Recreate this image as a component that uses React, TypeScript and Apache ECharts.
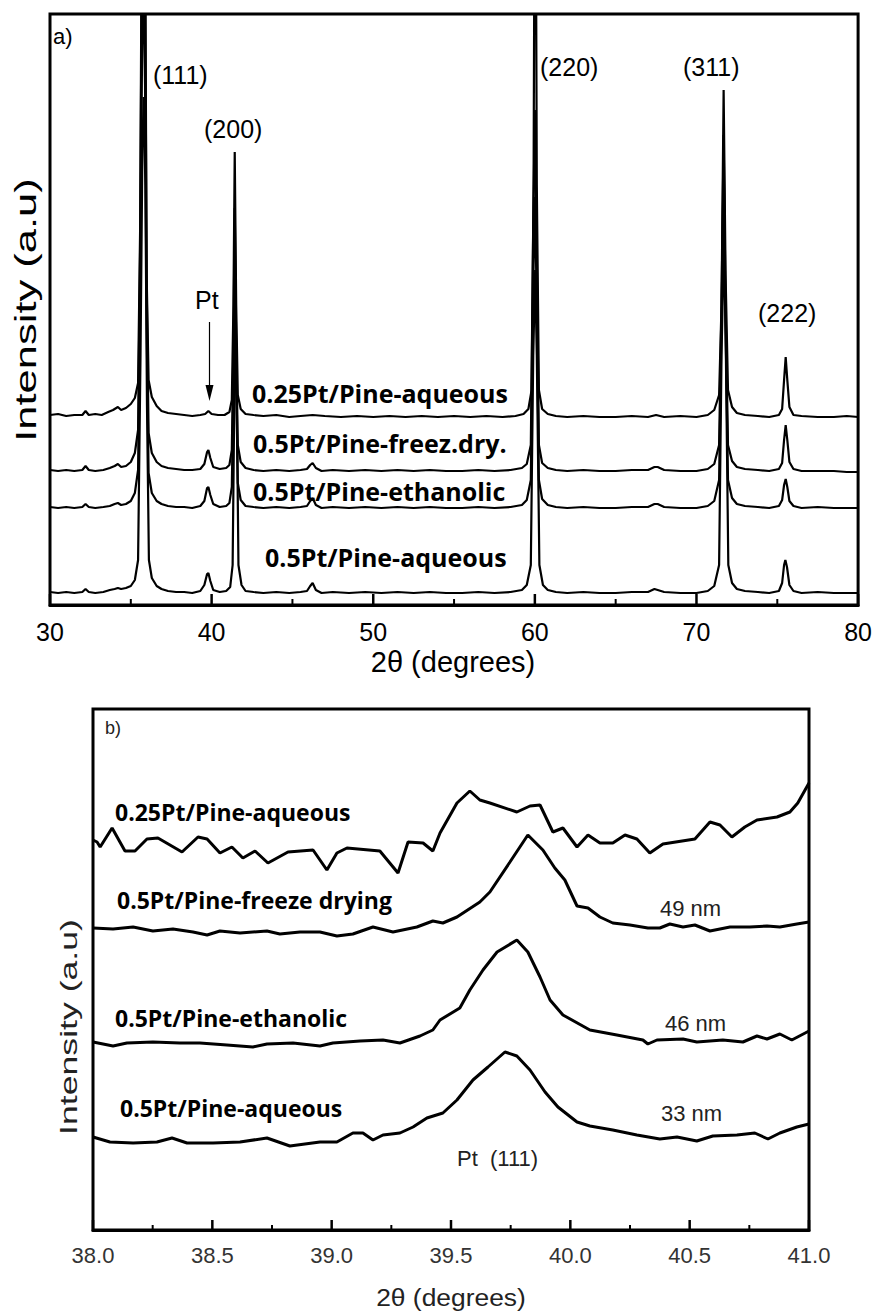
import React, { useEffect, useRef } from "react";
import * as echarts from "echarts";

// ---------- Panel a) : XRD patterns, 2θ = 30..80 (intensity in arbitrary units) ----------
const aXTicks = { min: 30, max: 80, step: 10 };
const aYMax = 591;
const aMajorTicks = [30, 40, 50, 60, 70, 80];
const aMinorTicks = [35, 45, 55, 65, 75];

const a025Aqueous: number[][] = [
  [30.0, 190], [30.5, 191], [31.0, 189], [31.5, 190], [32.0, 190], [32.2, 194], [32.4, 190], [32.8, 191], [33.2, 190], [33.6, 193],
  [33.9, 195], [34.2, 198], [34.4, 195], [34.7, 197], [35.0, 201], [35.25, 207], [35.45, 222], [35.58, 380], [35.7, 760], [35.78, 900],
  [35.88, 700], [35.98, 330], [36.1, 225], [36.3, 208], [36.6, 199], [36.9, 194], [37.3, 192], [37.8, 191], [38.3, 190], [38.8, 189],
  [39.3, 190], [39.6, 191], [39.8, 194], [40.0, 191], [40.4, 190], [40.8, 190], [41.1, 193], [41.25, 205], [41.35, 300], [41.43, 453],
  [41.52, 300], [41.62, 210], [41.8, 196], [42.1, 191], [42.6, 190], [43.2, 189], [44.0, 190], [44.8, 188], [45.5, 189], [46.25, 190],
  [47.0, 189], [48.0, 188], [49.0, 189], [50.0, 188], [51.0, 189], [52.0, 188], [53.0, 189], [54.0, 188], [55.0, 189], [56.0, 188],
  [57.0, 189], [58.0, 188], [58.8, 189], [59.3, 191], [59.6, 196], [59.8, 215], [59.92, 420], [60.02, 900], [60.12, 420], [60.25, 215],
  [60.45, 196], [60.8, 191], [61.3, 189], [62.0, 188], [63.0, 189], [64.0, 188], [65.0, 188], [66.0, 189], [67.0, 188], [67.5, 190],
  [68.0, 188], [69.0, 189], [70.0, 188], [70.7, 190], [71.1, 195], [71.4, 210], [71.55, 300], [71.68, 515], [71.8, 330], [71.95, 215],
  [72.2, 198], [72.5, 192], [73.0, 190], [73.8, 189], [74.5, 188], [75.1, 190], [75.3, 196], [75.42, 225], [75.52, 248], [75.62, 225],
  [75.75, 198], [76.0, 190], [76.5, 189], [77.5, 188], [78.5, 188], [79.3, 189], [80.0, 188],
];

const a05FreezeDry: number[][] = [
  [30.0, 135], [30.5, 134], [31.0, 135], [31.5, 134], [32.0, 135], [32.2, 139], [32.4, 135], [32.8, 134], [33.3, 135], [33.7, 137],
  [34.0, 139], [34.2, 141], [34.4, 138], [34.7, 139], [35.0, 143], [35.25, 152], [35.45, 175], [35.58, 360], [35.7, 700], [35.78, 800],
  [35.88, 650], [35.98, 320], [36.1, 172], [36.3, 152], [36.6, 143], [36.9, 139], [37.3, 137], [37.8, 136], [38.3, 135], [38.8, 135],
  [39.3, 136], [39.55, 141], [39.72, 153], [39.8, 155], [39.92, 147], [40.1, 138], [40.5, 136], [40.9, 137], [41.1, 140], [41.25, 155],
  [41.35, 260], [41.43, 397], [41.52, 260], [41.62, 160], [41.8, 143], [42.1, 137], [42.6, 135], [43.2, 134], [44.0, 135], [44.8, 134],
  [45.5, 135], [45.9, 136], [46.1, 140], [46.25, 142], [46.45, 137], [46.8, 134], [47.5, 135], [48.5, 134], [49.5, 135], [50.5, 134],
  [51.5, 135], [52.5, 134], [53.5, 135], [54.5, 134], [55.5, 134], [56.5, 135], [57.5, 134], [58.5, 135], [59.2, 137], [59.5, 141],
  [59.75, 160], [59.9, 380], [60.0, 495], [60.1, 380], [60.25, 160], [60.45, 142], [60.8, 137], [61.3, 135], [62.0, 134], [63.0, 135],
  [64.0, 134], [65.0, 134], [66.0, 135], [67.0, 135], [67.4, 138], [67.6, 138], [68.0, 135], [69.0, 134], [70.0, 134], [70.7, 136],
  [71.1, 141], [71.4, 160], [71.55, 300], [71.68, 470], [71.8, 300], [71.95, 160], [72.2, 144], [72.5, 138], [73.0, 136], [73.8, 135],
  [74.5, 134], [75.1, 136], [75.3, 142], [75.42, 165], [75.52, 180], [75.62, 165], [75.75, 143], [76.0, 136], [76.5, 134], [77.5, 134],
  [78.5, 134], [79.3, 133], [80.0, 133],
];

const a05Ethanolic: number[][] = [
  [30.0, 98], [30.5, 97], [31.0, 98], [31.5, 97], [32.0, 98], [32.2, 101], [32.4, 98], [32.8, 97], [33.3, 98], [33.7, 99],
  [34.0, 101], [34.2, 102], [34.4, 100], [34.7, 101], [35.0, 104], [35.25, 112], [35.45, 135], [35.58, 320], [35.7, 560], [35.78, 620],
  [35.88, 520], [35.98, 280], [36.1, 132], [36.3, 112], [36.6, 104], [36.9, 101], [37.3, 99], [37.8, 98], [38.3, 98], [38.8, 97],
  [39.3, 99], [39.55, 104], [39.72, 117], [39.8, 118], [39.92, 110], [40.1, 101], [40.5, 98], [40.9, 99], [41.1, 102], [41.25, 118],
  [41.35, 220], [41.43, 322], [41.52, 220], [41.62, 122], [41.8, 105], [42.1, 99], [42.6, 98], [43.2, 97], [44.0, 98], [44.8, 97],
  [45.5, 98], [45.9, 99], [46.1, 104], [46.25, 107], [46.45, 100], [46.8, 97], [47.5, 98], [48.5, 97], [49.5, 98], [50.5, 97],
  [51.5, 98], [52.5, 97], [53.5, 98], [54.5, 97], [55.5, 97], [56.5, 98], [57.5, 97], [58.5, 98], [59.2, 100], [59.5, 105],
  [59.75, 125], [59.9, 320], [60.0, 408], [60.1, 320], [60.25, 125], [60.45, 106], [60.8, 100], [61.3, 98], [62.0, 97], [63.0, 98],
  [64.0, 97], [65.0, 97], [66.0, 98], [67.0, 98], [67.4, 101], [67.6, 101], [68.0, 98], [69.0, 97], [70.0, 97], [70.7, 99],
  [71.1, 104], [71.4, 125], [71.55, 280], [71.68, 447], [71.8, 280], [71.95, 125], [72.2, 107], [72.5, 101], [73.0, 99], [73.8, 98],
  [74.5, 97], [75.1, 99], [75.3, 105], [75.42, 120], [75.52, 126], [75.62, 118], [75.75, 104], [76.0, 99], [76.5, 97], [77.5, 98],
  [78.5, 97], [79.3, 97], [80.0, 97],
];

const a05Aqueous: number[][] = [
  [30.0, 13], [30.5, 12], [31.0, 13], [31.5, 12], [32.0, 13], [32.2, 16], [32.4, 13], [32.8, 12], [33.3, 13], [33.7, 15],
  [34.0, 16], [34.2, 17], [34.4, 16], [34.7, 17], [35.0, 19], [35.25, 25], [35.45, 45], [35.6, 250], [35.72, 460], [35.8, 508],
  [35.9, 420], [36.0, 200], [36.12, 45], [36.3, 27], [36.6, 19], [36.9, 16], [37.3, 14], [37.8, 13], [38.3, 13], [38.8, 12],
  [39.3, 14], [39.55, 20], [39.72, 31], [39.8, 32], [39.92, 24], [40.1, 15], [40.5, 13], [40.9, 14], [41.15, 18], [41.3, 40],
  [41.4, 200], [41.48, 300], [41.56, 200], [41.66, 40], [41.85, 20], [42.1, 14], [42.6, 13], [43.2, 12], [44.0, 13], [44.8, 12],
  [45.5, 13], [45.9, 14], [46.1, 19], [46.25, 22], [46.45, 15], [46.8, 12], [47.5, 13], [48.5, 12], [49.5, 13], [50.5, 12],
  [51.5, 13], [52.5, 12], [53.5, 13], [54.5, 12], [55.5, 12], [56.5, 13], [57.5, 12], [58.5, 13], [59.2, 15], [59.5, 20],
  [59.75, 40], [59.9, 250], [60.02, 335], [60.12, 250], [60.28, 40], [60.5, 20], [60.8, 15], [61.3, 13], [62.0, 12], [63.0, 13],
  [64.0, 12], [65.0, 12], [66.0, 13], [67.0, 13], [67.4, 16], [67.6, 15], [68.0, 13], [69.0, 12], [70.0, 12], [70.7, 14],
  [71.1, 19], [71.4, 40], [71.55, 250], [71.7, 368], [71.82, 250], [71.97, 40], [72.2, 22], [72.5, 16], [73.0, 14], [73.8, 13],
  [74.5, 12], [75.1, 14], [75.3, 22], [75.42, 40], [75.5, 45], [75.6, 38], [75.75, 20], [76.0, 14], [76.5, 12], [77.5, 13],
  [78.5, 12], [79.3, 12], [80.0, 12],
];

// ---------- Panel b) : zoom on Pt (111), 2θ = 38..41 ----------
const bXTicks = { min: 38, max: 41, step: 0.5 };
const bYMax = 521;
const bMajorTicks = [38, 38.5, 39, 39.5, 40, 40.5, 41];
const bMinorTicks = [38.25, 38.75, 39.25, 39.75, 40.25, 40.75];

const b025Aqueous: number[][] = [
  [38.0, 390], [38.017, 388], [38.03, 383], [38.08, 402], [38.134, 379], [38.176, 379], [38.226, 391], [38.272, 392], [38.373, 378],
  [38.44, 393], [38.478, 391], [38.532, 377], [38.582, 383], [38.628, 372], [38.679, 379], [38.733, 367], [38.817, 378], [38.922, 380],
  [38.98, 360], [39.022, 377], [39.064, 382], [39.202, 379], [39.278, 357], [39.32, 388], [39.383, 387], [39.424, 379], [39.454, 397],
  [39.525, 427], [39.579, 439], [39.621, 430], [39.663, 427], [39.776, 418], [39.831, 424], [39.873, 425], [39.927, 398], [39.969, 402],
  [40.028, 383], [40.074, 395], [40.124, 387], [40.178, 387], [40.229, 395], [40.279, 391], [40.333, 377], [40.388, 386], [40.522, 391],
  [40.585, 408], [40.627, 405], [40.677, 393], [40.731, 403], [40.782, 410], [40.866, 413], [40.92, 418], [40.953, 427], [41.0, 447],
];

const b05FreezeDrying: number[][] = [
  [38.0, 302], [38.084, 301], [38.168, 303], [38.251, 299], [38.335, 301], [38.419, 298], [38.478, 295], [38.532, 299], [38.616, 297],
  [38.729, 299], [38.783, 296], [38.867, 298], [38.951, 298], [39.022, 294], [39.089, 296], [39.173, 303], [39.257, 298], [39.357, 303],
  [39.424, 309], [39.466, 307], [39.525, 313], [39.621, 328], [39.663, 338], [39.747, 368], [39.822, 395], [39.885, 380], [39.935, 362],
  [39.977, 350], [40.028, 324], [40.074, 322], [40.124, 313], [40.178, 307], [40.25, 305], [40.325, 302], [40.375, 302], [40.417, 306],
  [40.472, 303], [40.522, 305], [40.585, 299], [40.669, 303], [40.752, 303], [40.824, 304], [40.878, 303], [40.949, 306], [41.0, 308],
];

const b05Ethanolic: number[][] = [
  [38.0, 188], [38.084, 184], [38.142, 187], [38.251, 188], [38.364, 187], [38.448, 187], [38.561, 185], [38.67, 183], [38.729, 186],
  [38.838, 187], [38.951, 184], [39.005, 187], [39.119, 189], [39.215, 190], [39.286, 187], [39.37, 194], [39.424, 200], [39.454, 210],
  [39.537, 222], [39.579, 240], [39.634, 260], [39.693, 278], [39.776, 290], [39.822, 278], [39.873, 253], [39.915, 230], [39.969, 215],
  [40.082, 200], [40.195, 195], [40.304, 190], [40.325, 186], [40.363, 190], [40.472, 191], [40.53, 188], [40.639, 190], [40.723, 188],
  [40.782, 194], [40.824, 191], [40.878, 196], [40.928, 190], [41.0, 199],
];

const b05Aqueous: number[][] = [
  [38.0, 93], [38.071, 88], [38.168, 87], [38.268, 88], [38.331, 92], [38.394, 87], [38.503, 87], [38.616, 88], [38.729, 92],
  [38.825, 84], [38.951, 88], [39.022, 88], [39.089, 97], [39.131, 97], [39.173, 90], [39.215, 95], [39.286, 97], [39.341, 103],
  [39.399, 112], [39.466, 117], [39.525, 130], [39.592, 150], [39.655, 163], [39.726, 178], [39.776, 174], [39.831, 160], [39.894, 138],
  [39.948, 123], [40.028, 108], [40.082, 104], [40.178, 100], [40.279, 95], [40.375, 91], [40.447, 93], [40.53, 89], [40.597, 94],
  [40.698, 95], [40.773, 97], [40.828, 91], [40.878, 97], [40.949, 103], [41.0, 106],
];

const aSampleLabels = ["0.25Pt/Pine-aqueous", "0.5Pt/Pine-freez.dry.", "0.5Pt/Pine-ethanolic", "0.5Pt/Pine-aqueous"];
const bSampleLabels = ["0.25Pt/Pine-aqueous", "0.5Pt/Pine-freeze drying", "0.5Pt/Pine-ethanolic", "0.5Pt/Pine-aqueous"];
const aPeakLabels = ["(111)", "(200)", "(220)", "(311)", "(222)"];
const bSizeLabels = ["49 nm", "46 nm", "33 nm"];

const ARIAL = '"Liberation Sans", Arial, sans-serif';
const BOLDF = '"Open Sans", "Noto Sans", sans-serif';

function txt(text: string, x: number, y: number, size: number, opts: any = {}) {
  return {
    type: "text",
    x,
    y,
    rotation: opts.rotation || 0,
    scaleX: opts.scaleX || 1,
    scaleY: 1,
    style: {
      text,
      fontSize: size,
      fontFamily: opts.family || ARIAL,
      fontWeight: opts.weight || "normal",
      fill: opts.color || "#000",
      textAlign: opts.align || "left",
      textVerticalAlign: "middle",
      align: opts.align || "left",
      verticalAlign: "middle",
    },
  };
}

const annotations = [
  // panel a
  txt("a)", 53, 36, 22),
  txt(aPeakLabels[0], 153, 75, 25),
  txt(aPeakLabels[1], 204, 129, 25),
  txt(aPeakLabels[2], 540, 67, 25),
  txt(aPeakLabels[3], 683, 67, 25),
  txt(aPeakLabels[4], 758, 313, 25),
  txt("Pt", 195, 300, 25),
  { type: "line", shape: { x1: 209.5, y1: 322, x2: 209.5, y2: 392 }, style: { stroke: "#000", lineWidth: 1.2 } },
  { type: "polygon", shape: { points: [[205.5, 385], [213.5, 385], [209.5, 401]] }, style: { fill: "#000" } },
  txt(aSampleLabels[0], 252, 393, 25, { family: BOLDF, weight: "bold" }),
  txt(aSampleLabels[1], 253, 443, 25, { family: BOLDF, weight: "bold" }),
  txt(aSampleLabels[2], 253, 491, 25, { family: BOLDF, weight: "bold" }),
  txt(aSampleLabels[3], 265, 557, 25, { family: BOLDF, weight: "bold" }),
  txt("2θ (degrees)", 453, 662, 29, { align: "center" }),
  txt("Intensity (a.u)", 26, 310, 30, { align: "center", rotation: Math.PI / 2, scaleX: 1.45 }),
  // panel b
  txt("b)", 105, 728, 18, { color: "#222" }),
  txt(bSampleLabels[0], 115, 812, 23, { family: BOLDF, weight: "bold" }),
  txt(bSampleLabels[1], 117, 900, 23, { family: BOLDF, weight: "bold" }),
  txt(bSampleLabels[2], 115, 1018, 23, { family: BOLDF, weight: "bold" }),
  txt(bSampleLabels[3], 120, 1108, 23, { family: BOLDF, weight: "bold" }),
  txt(bSizeLabels[0], 660, 908, 22, { color: "#222" }),
  txt(bSizeLabels[1], 665, 1023, 22, { color: "#222" }),
  txt(bSizeLabels[2], 661, 1113, 22, { color: "#222" }),
  txt("Pt  (111)", 457, 1158, 22, { color: "#222" }),
  txt("2θ (degrees)", 451, 1297, 24, { align: "center", color: "#222", scaleX: 1.1 }),
  txt("Intensity (a.u)", 69, 1027, 23, { align: "center", rotation: Math.PI / 2, scaleX: 1.55, color: "#222" }),
];

export default function App() {
  const ref = useRef<HTMLDivElement>(null);

  useEffect(() => {
    if (!ref.current) return;
    const chart = echarts.init(ref.current, null, { renderer: "svg" });

    const line = (data: number[][], idx: number, width: number) => ({
      type: "line",
      xAxisIndex: idx,
      yAxisIndex: idx,
      data,
      symbol: "none",
      lineStyle: { color: "#000", width },
    });

    // inward ticks placed through the axis scale
    const ticks = (values: number[], idx: number, len: number, width: number) => ({
      type: "custom",
      xAxisIndex: idx,
      yAxisIndex: idx,
      silent: true,
      z: 5,
      data: values.map((v) => [v, 0]),
      encode: { x: 0, y: 1 },
      renderItem: (_p: any, api: any) => {
        const pt = api.coord([api.value(0), 0]);
        return {
          type: "line",
          shape: { x1: pt[0], y1: pt[1], x2: pt[0], y2: pt[1] - len },
          style: { stroke: "#000", lineWidth: width },
        };
      },
    });

    const xAxisBase = (idx: number, t: any, fontSize: number, color: string, decimals: number) => ({
      type: "value",
      gridIndex: idx,
      min: t.min,
      max: t.max,
      interval: t.step,
      axisLine: { show: true, onZero: false, lineStyle: { color: "#000", width: 3 } },
      axisTick: { show: false },
      minorTick: { show: false },
      axisLabel: {
        show: true,
        fontSize,
        fontFamily: ARIAL,
        color,
        margin: 14,
        formatter: (v: number) => v.toFixed(decimals),
      },
      splitLine: { show: false },
    });

    chart.setOption({
      animation: false,
      backgroundColor: "#fff",
      grid: [
        { left: 50, top: 14, width: 809, height: 591, show: true, borderColor: "#000", borderWidth: 3 },
        { left: 93, top: 709, width: 716, height: 521, show: true, borderColor: "#000", borderWidth: 3 },
      ],
      xAxis: [xAxisBase(0, aXTicks, 25, "#000", 0), xAxisBase(1, bXTicks, 22, "#333", 1)],
      yAxis: [
        { type: "value", gridIndex: 0, min: 0, max: aYMax, show: false },
        { type: "value", gridIndex: 1, min: 0, max: bYMax, show: false },
      ],
      series: [
        ticks(aMajorTicks, 0, 11, 2.5),
        ticks(aMinorTicks, 0, 6, 2),
        ticks(bMajorTicks, 1, 10, 2.5),
        ticks(bMinorTicks, 1, 5, 2),
        line(a025Aqueous, 0, 2.2),
        line(a05FreezeDry, 0, 2.2),
        line(a05Ethanolic, 0, 2.2),
        line(a05Aqueous, 0, 2.2),
        line(b025Aqueous, 1, 3),
        line(b05FreezeDrying, 1, 3),
        line(b05Ethanolic, 1, 3),
        line(b05Aqueous, 1, 3),
        {
          type: "custom",
          coordinateSystem: "none",
          silent: true,
          z: 6,
          data: [0],
          renderItem: () => ({ type: "group", children: annotations }),
        },
      ],
    });

    return () => chart.dispose();
  }, []);

  return (
    <div
      ref={ref}
      style={{ position: "absolute", left: 0, top: 0, width: 875, height: 1313, background: "#fff" }}
    />
  );
}
